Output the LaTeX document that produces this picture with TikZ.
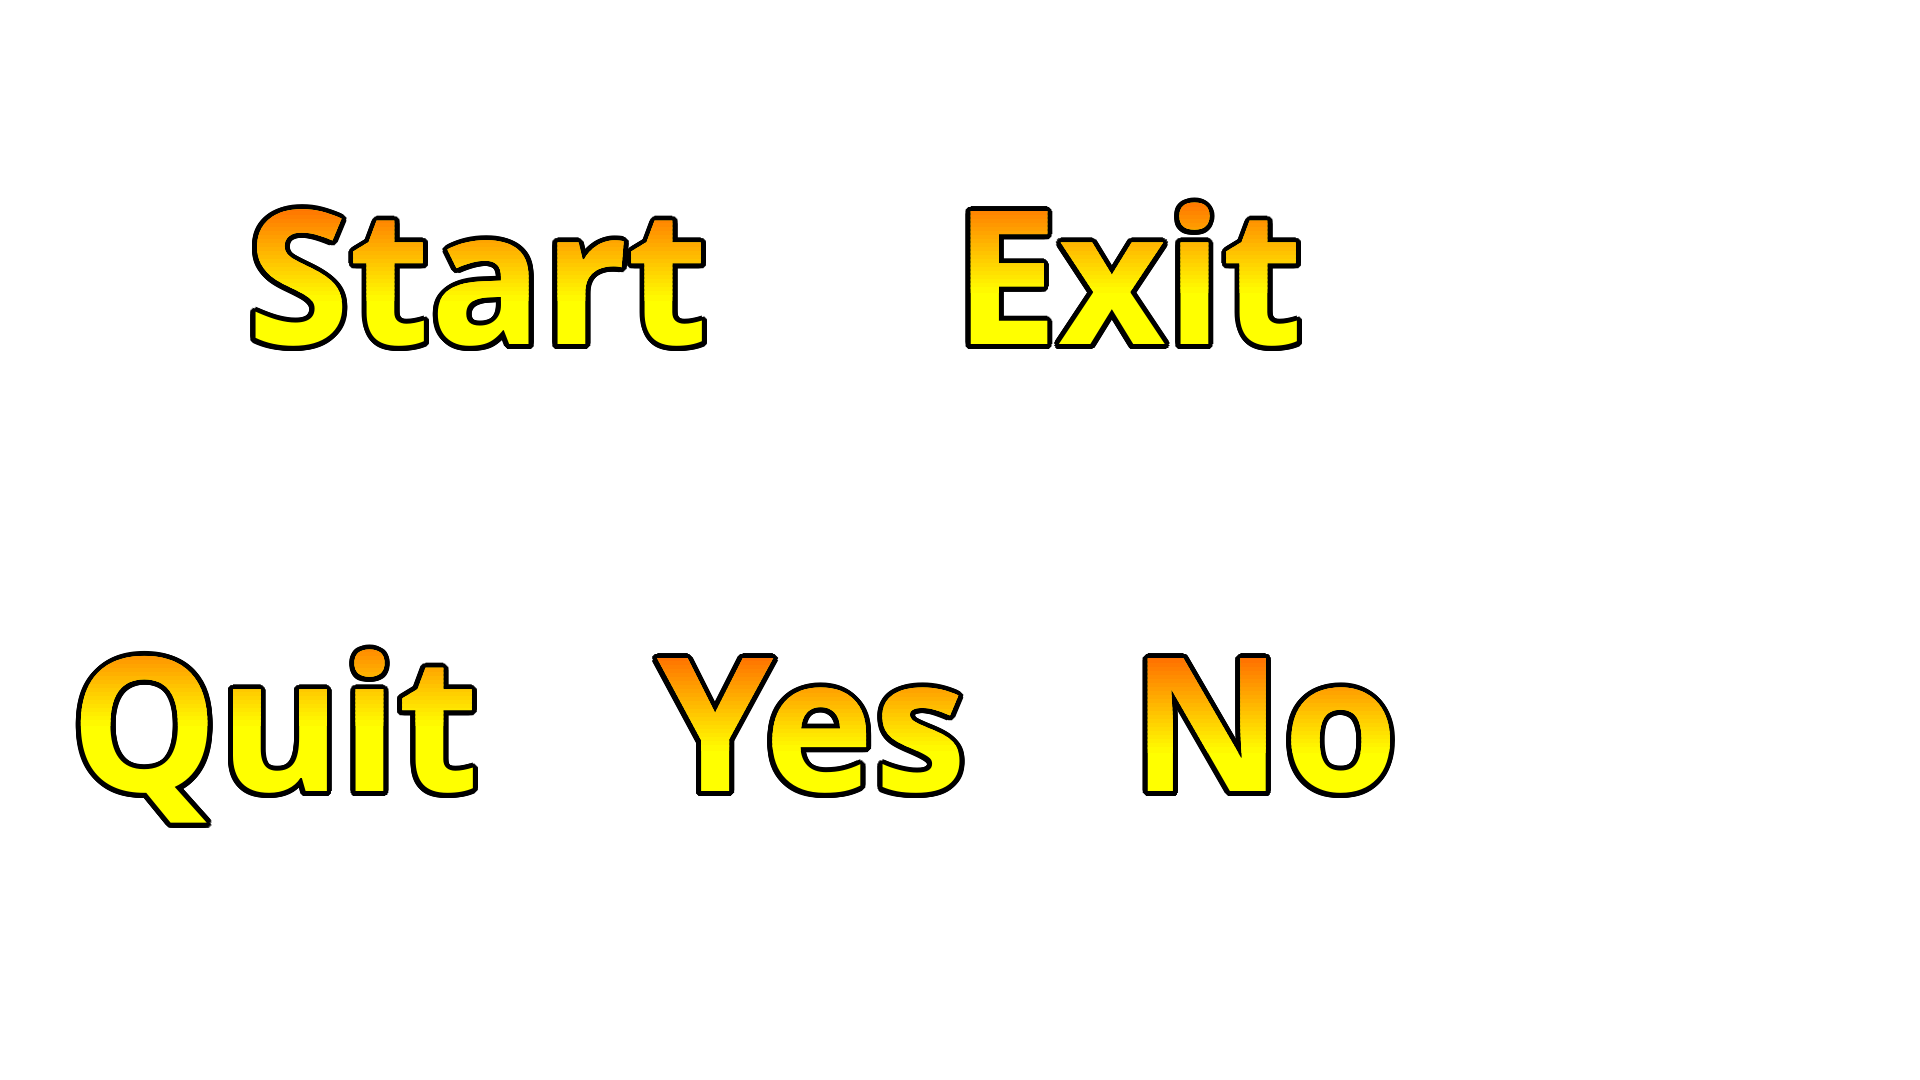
\documentclass[tikz,border=0pt]{standalone}
\usepackage{fontspec}
\setmainfont{Open Sans}
\definecolor{fireorange}{RGB}{255,104,0}
\definecolor{fireyellow}{RGB}{255,255,0}
\tikzset{
  btn/.style={font=\fontsize{53}{60}\selectfont\bfseries, inner sep=0pt, anchor=base},
}
\newcommand\fireword[5]{%
  \foreach \a in {0,15,...,345}
    \node[btn, text=black] at ([shift={(\a:0.05)}] #2,#3) {#5};
  \node[btn, text=fireyellow] (#1) at (#2,#3) {#5};
  \foreach \k in {0,...,24}{
    \pgfmathsetmacro\mix{4*\k}
    \pgfmathsetmacro\ytop{ifthenelse(\k==0,#4+1,#4-0.04*\k)}
    \begin{scope}
      \clip (#2-3,\ytop) rectangle (#2+3,#4-0.04*\k-0.045);
      \node[btn, text=fireyellow!\mix!fireorange] at (#2,#3) {#5};
    \end{scope}
  }
}
\begin{document}
\begin{tikzpicture}
  \useasboundingbox[fill=white] (0,0) rectangle (19.2,10.8);
  \fireword{start}{4.78}{7.35}{8.80}{Start}
  \fireword{exit}{11.29}{7.35}{8.88}{Exit}
  \fireword{quit}{2.75}{2.88}{4.55}{Quit}
  \fireword{yes}{8.12}{2.88}{4.30}{Yes}
  \fireword{no}{12.65}{2.88}{4.28}{No}
\end{tikzpicture}
\end{document}
